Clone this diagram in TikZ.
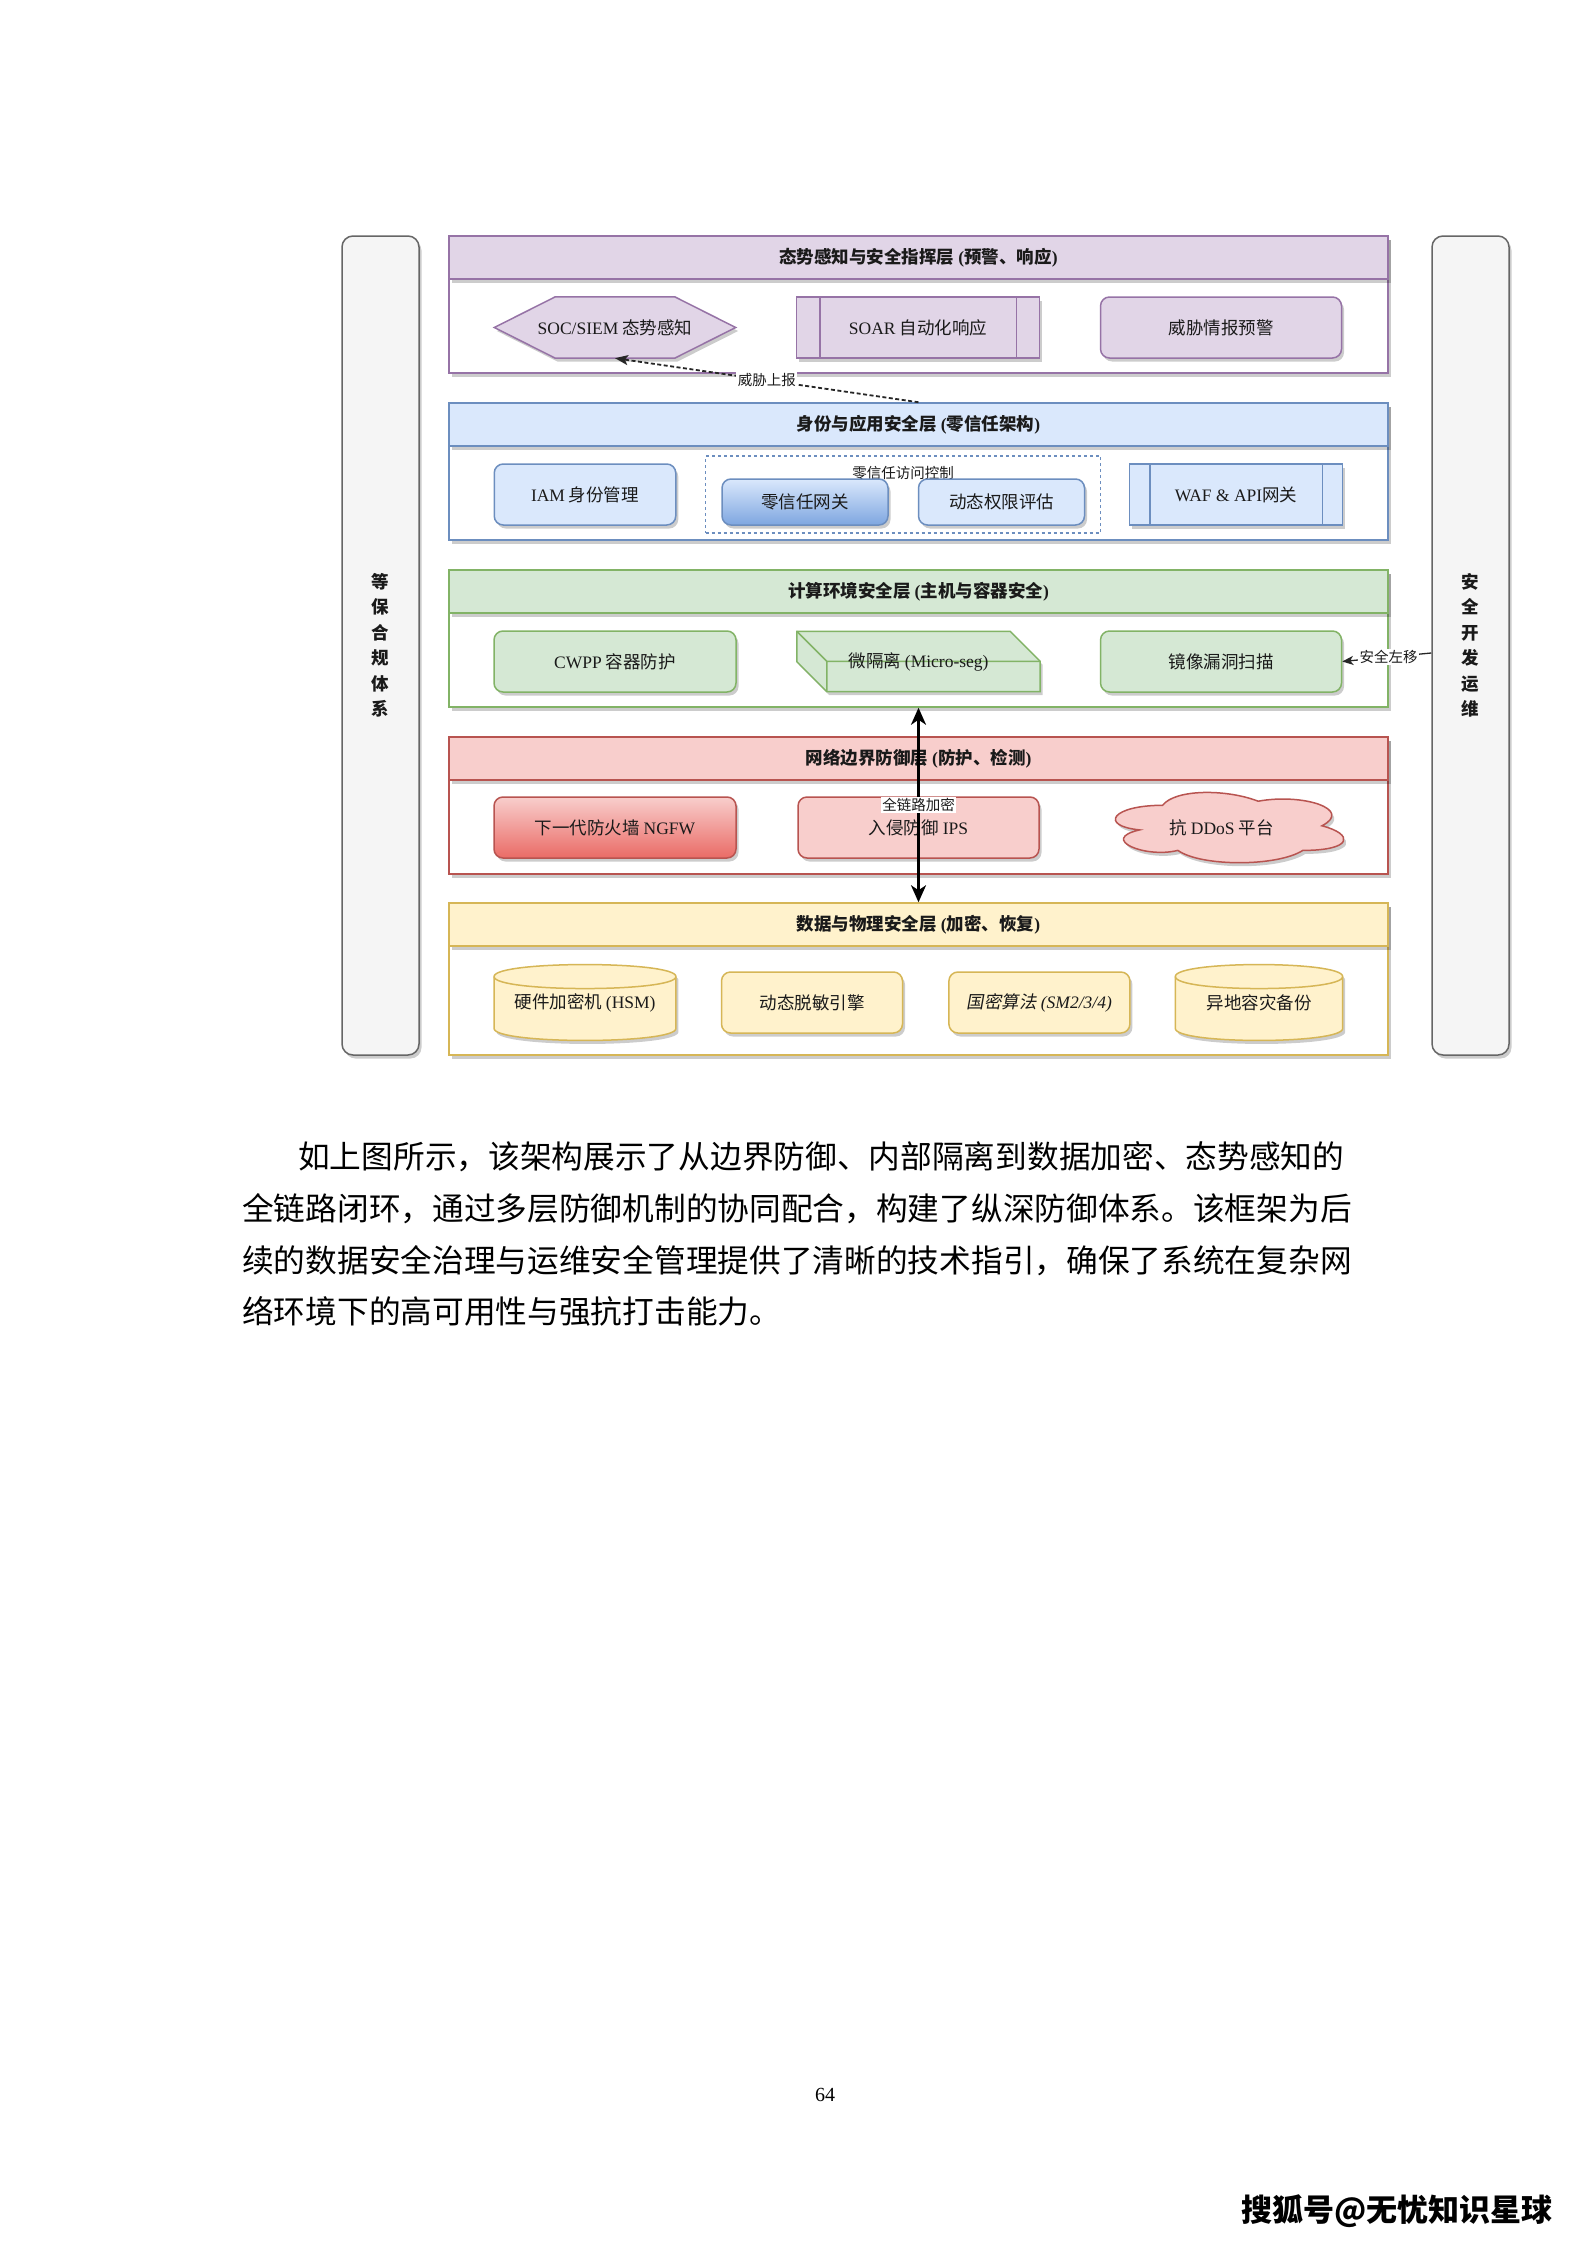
\documentclass[tikz,border=0pt]{standalone}
\usepackage{fontspec}
\setmainfont{Noto Sans CJK SC}
\newfontfamily\lat{Liberation Serif}
\newfontfamily\cjkslant[FakeSlant=0.18]{Noto Sans CJK SC}
\usetikzlibrary{arrows.meta,shadows,calc}

\definecolor{purF}{HTML}{E1D5E7}\definecolor{purD}{HTML}{9673A6}
\definecolor{bluF}{HTML}{DAE8FC}\definecolor{bluD}{HTML}{6C8EBF}\definecolor{bluG}{HTML}{7EA6E0}
\definecolor{grnF}{HTML}{D5E8D4}\definecolor{grnD}{HTML}{82B366}
\definecolor{redF}{HTML}{F8CECC}\definecolor{redD}{HTML}{B85450}\definecolor{redG}{HTML}{EA6B66}
\definecolor{ylwF}{HTML}{FFF2CC}\definecolor{ylwD}{HTML}{D6B656}
\definecolor{sideF}{HTML}{F5F5F5}\definecolor{sideD}{HTML}{666666}
\definecolor{txt}{HTML}{1A1A1A}

\newcommand\fsnode{\fontsize{17.5pt}{21pt}\selectfont}
\newcommand\fshead{\fontsize{17.5pt}{21pt}\selectfont\bfseries}
\newcommand\fssmall{\fontsize{14.5pt}{17pt}\selectfont}
\newcommand\fsside{\fontsize{17.5pt}{25.5pt}\selectfont\bfseries}
\newcommand\fspara{\fontsize{31.7pt}{38pt}\selectfont}
\newcommand\la[1]{{\lat #1}}

\tikzset{
  shad/.style={drop shadow={shadow xshift=2.5pt,shadow yshift=-3.5pt,opacity=0.2,fill=black}},
  lyr/.style={draw=#1,line width=1.5pt,fill=white,shad,minimum width=939pt,minimum height=137pt,inner sep=0pt},
  hdr/.style 2 args={draw=#1,fill=#2,line width=1.5pt,shad,minimum width=939pt,minimum height=43pt,inner sep=0pt,anchor=north,font=\fshead,text=txt},
  rbox/.style 2 args={draw=#1,fill=#2,line width=1.5pt,shad,rounded corners=9pt,inner sep=0pt,font=\fsnode,text=txt},
  procbox/.style 2 args={draw=#1,fill=#2,line width=1.5pt,shad,inner sep=0pt,font=\fsnode,text=txt},
  geo/.style={inner sep=0pt,draw=none,fill=none},
  shapefill/.style 2 args={draw=#1,fill=#2,line width=1.5pt,shad,line join=miter},
  lbl/.style={font=\fsnode,text=txt,inner sep=0pt},
  smalllbl/.style={font=\fssmall,text=txt,fill=white,inner sep=1.5pt},
  sidebox/.style={draw=sideD,fill=sideF,line width=1.5pt,rounded corners=11pt,shad,minimum width=77pt,minimum height=819pt,inner sep=0pt},
  sidetxt/.style={font=\fsside,text=txt,align=center,inner sep=0pt},
  dotarr/.style={draw=black!85,line width=1.8pt,dash pattern=on 4pt off 2.5pt,-{Stealth[length=13pt,width=10pt,inset=3pt]}},
  bigarr/.style={draw=black,line width=2.6pt,{Stealth[length=17pt,width=15pt,inset=5pt]}-{Stealth[length=17pt,width=15pt,inset=5pt]}},
  thinarr/.style={draw=black!85,line width=1.3pt,-{Stealth[length=11pt,width=9pt,inset=3pt]}},
  para/.style={anchor=west,font=\fspara,text=black,inner sep=0pt,text height=28pt,text depth=4pt}
}

\begin{document}
\begin{tikzpicture}[x=1pt,y=-1pt]
\fill[white] (0,0) rectangle (1587,2245);
\useasboundingbox (0,0) rectangle (1587,2245);

% side bars
\node[sidebox] (SL) at (380.5,645.5) {};
\node[sidebox] (SR) at (1470.5,645.5) {};
\node[sidetxt] (SLt) at (SL.center) {等\\保\\合\\规\\体\\系};
\node[sidetxt] (SRt) at (SR.center) {安\\全\\开\\发\\运\\维};

% layers
\node[lyr=purD] (L1) at (918.5,304.5) {};
\node[hdr={purD}{purF}] (H1) at (L1.north) {态势感知与安全指挥层 \la{(}预警、响应\la{)}};
\node[lyr=bluD] (L2) at (918.5,471.5) {};
\node[hdr={bluD}{bluF}] (H2) at (L2.north) {身份与应用安全层 \la{(}零信任架构\la{)}};
\node[lyr=grnD] (L3) at (918.5,638.5) {};
\node[hdr={grnD}{grnF}] (H3) at (L3.north) {计算环境安全层 \la{(}主机与容器安全\la{)}};
\node[lyr=redD] (L4) at (918.5,805.5) {};
\node[hdr={redD}{redF}] (H4) at (L4.north) {网络边界防御层 \la{(}防护、检测\la{)}};
\node[lyr=ylwD,minimum height=152pt] (L5) at (918.5,979) {};
\node[hdr={ylwD}{ylwF}] (H5) at (L5.north) {数据与物理安全层 \la{(}加密、恢复\la{)}};

% row 1
\node[geo,minimum width=241pt,minimum height=61pt] (soc) at (615,327.5) {};
\path[shapefill={purD}{purF}] (soc.west) -- ($(soc.north west)+(61,0)$) -- ($(soc.north east)+(-61,0)$) -- (soc.east) -- ($(soc.south east)+(-61,0)$) -- ($(soc.south west)+(61,0)$) -- cycle;
\node[lbl] (soct) at (soc.center) {\la{SOC/SIEM} 态势感知};
\node[procbox={purD}{purF},minimum width=243pt,minimum height=61pt] (soar) at (918,327.5) {\la{SOAR} 自动化响应};
\draw[purD,line width=1.5pt] ($(soar.north west)+(24,0)$) -- ($(soar.south west)+(24,0)$) ($(soar.north east)+(-24,0)$) -- ($(soar.south east)+(-24,0)$);
\node[rbox={purD}{purF},minimum width=241pt,minimum height=61pt] (intel) at (1221,327.5) {威胁情报预警};

% row 2
\node[rbox={bluD}{bluF},minimum width=181.5pt,minimum height=61pt] (iam) at (585,494.5) {\la{IAM} 身份管理};
\node[draw=bluD,dash pattern=on 3pt off 3pt,line width=1.2pt,minimum width=395pt,minimum height=77pt,inner sep=0pt] (ztg) at (903,494.5) {};
\node[font=\fssmall,text=txt,inner sep=0pt] (ztgt) at (903,473) {零信任访问控制};
\node[rbox={bluD}{bluF},top color=bluF,bottom color=bluG,minimum width=166pt,minimum height=46pt] (ztgw) at (805,502) {零信任网关};
\node[rbox={bluD}{bluF},minimum width=166pt,minimum height=46pt] (dyn) at (1001.5,502) {动态权限评估};
\node[procbox={bluD}{bluF},minimum width=213pt,minimum height=61pt] (waf) at (1236,494.5) {\la{WAF \& API}网关};
\draw[bluD,line width=1.5pt] ($(waf.north west)+(21,0)$) -- ($(waf.south west)+(21,0)$) ($(waf.north east)+(-21,0)$) -- ($(waf.south east)+(-21,0)$);

% row 3
\node[rbox={grnD}{grnF},minimum width=242pt,minimum height=61pt] (cwpp) at (615,661.5) {\la{CWPP} 容器防护};
\node[geo,minimum width=243pt,minimum height=60pt] (micro) at (918.5,661.5) {};
\path[shapefill={grnD}{grnF}] (micro.north west) -- ($(micro.north east)+(-30,0)$) -- ($(micro.north east)+(0,30)$) -- (micro.south east) -- ($(micro.south west)+(30,0)$) -- ($(micro.south west)+(0,-30)$) -- cycle;
\draw[grnD,line width=1.5pt] (micro.north west) -- ($(micro.north west)+(30,30)$) -- ($(micro.north east)+(0,30)$) ($(micro.north west)+(30,30)$) -- ($(micro.south west)+(30,0)$);
\node[lbl] (microt) at (micro.center) {微隔离 \la{(Micro-seg)}};
\node[rbox={grnD}{grnF},minimum width=241pt,minimum height=61pt] (scan) at (1221,661.5) {镜像漏洞扫描};

% row 4
\node[rbox={redD}{redF},top color=redF,bottom color=redG,minimum width=242pt,minimum height=61pt] (ngfw) at (615,827.5) {下一代防火墙 \la{NGFW}};
\node[rbox={redD}{redF},minimum width=241pt,minimum height=61pt] (ips) at (918.5,827.5) {入侵防御 \la{IPS}};
\node[geo,minimum width=255pt,minimum height=82pt] (ddos) at (1226.5,826) {};
\begin{scope}[shift={(ddos.north west)}]
\path[shapefill={redD}{redF}] (63.75,20.5) .. controls (12.75,20.5) and (0,41) .. (40.8,45.1)
  .. controls (0,54.12) and (45.9,73.8) .. (79.05,65.6)
  .. controls (102,82) and (178.5,82) .. (204,65.6)
  .. controls (255,65.6) and (255,49.2) .. (223.125,41)
  .. controls (255,24.6) and (204,8.2) .. (159.375,16.4)
  .. controls (127.5,4.1) and (76.5,4.1) .. (63.75,20.5) -- cycle;
\end{scope}
\node[lbl] (ddost) at ($(ddos.center)+(-5,2)$) {抗 \la{DDoS} 平台};

% row 5
\node[geo,minimum width=181.5pt,minimum height=75.5pt] (hsm) at (585,1002.5) {};
\path[shapefill={ylwD}{ylwF}] ($(hsm.north west)+(0,12)$) -- ($(hsm.south west)+(0,-12)$)
  .. controls ($(hsm.south west)+(0,4)$) and ($(hsm.south east)+(0,4)$) .. ($(hsm.south east)+(0,-12)$)
  -- ($(hsm.north east)+(0,12)$)
  .. controls ($(hsm.north east)+(0,-4)$) and ($(hsm.north west)+(0,-4)$) .. ($(hsm.north west)+(0,12)$) -- cycle;
\draw[ylwD,line width=1.5pt] ($(hsm.north west)+(0,12)$) .. controls ($(hsm.north west)+(0,28)$) and ($(hsm.north east)+(0,28)$) .. ($(hsm.north east)+(0,12)$);
\node[lbl] (hsmt) at (hsm.center) {硬件加密机 \la{(HSM)}};
\node[rbox={ylwD}{ylwF},minimum width=181pt,minimum height=61pt] (desens) at (812,1002.5) {动态脱敏引擎};
\node[rbox={ylwD}{ylwF},minimum width=181pt,minimum height=61pt] (sm) at (1039.4,1002.5) {{\cjkslant 国密算法} {\lat\itshape (SM2/3/4)}};
\node[geo,minimum width=167pt,minimum height=75.5pt] (backup) at (1259,1002.5) {};
\path[shapefill={ylwD}{ylwF}] ($(backup.north west)+(0,12)$) -- ($(backup.south west)+(0,-12)$)
  .. controls ($(backup.south west)+(0,4)$) and ($(backup.south east)+(0,4)$) .. ($(backup.south east)+(0,-12)$)
  -- ($(backup.north east)+(0,12)$)
  .. controls ($(backup.north east)+(0,-4)$) and ($(backup.north west)+(0,-4)$) .. ($(backup.north west)+(0,12)$) -- cycle;
\draw[ylwD,line width=1.5pt] ($(backup.north west)+(0,12)$) .. controls ($(backup.north west)+(0,28)$) and ($(backup.north east)+(0,28)$) .. ($(backup.north east)+(0,12)$);
\node[lbl] (backupt) at (backup.center) {异地容灾备份};

% connectors
\draw[dotarr] (H2.north) -- node[smalllbl,pos=0.5] (thr) {威胁上报} (soc.south);
\draw[bigarr] (L3.south) -- node[smalllbl,pos=0.5] (enc) {全链路加密} (L5.north);
\draw[thinarr] ($(SR.west)+(0,7.5)$) -- node[smalllbl,pos=0.48] (shl) {安全左移} (scan.east);

% paragraph
\node[para] (p1) at (298,1156.5) {如上图所示，该架构展示了从边界防御、内部隔离到数据加密、态势感知的};
\node[para] (p2) at (242,1208) {全链路闭环，通过多层防御机制的协同配合，构建了纵深防御体系。该框架为后};
\node[para] (p3) at (242,1260) {续的数据安全治理与运维安全管理提供了清晰的技术指引，确保了系统在复杂网};
\node[para] (p4) at (242,1311.5) {络环境下的高可用性与强抗打击能力。};

\node[font=\lat\fontsize{20pt}{24pt}\selectfont,inner sep=0pt] (pg) at (825,2095) {64};
\node[font=\fontsize{31pt}{36pt}\selectfont\bfseries,inner sep=0pt] (wm) at (1396.7,2211) {搜狐号@无忧知识星球};
\end{tikzpicture}
\end{document}
